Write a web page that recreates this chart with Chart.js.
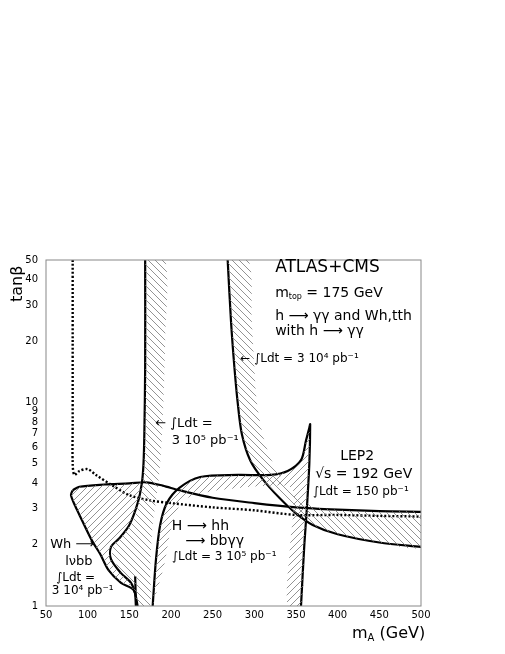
<!DOCTYPE html>
<html><head><meta charset="utf-8">
<script src="https://cdn.jsdelivr.net/npm/chart.js@4.4.0/dist/chart.umd.min.js"></script>
<style>body{margin:0;background:#fff}#wrap{width:505px;height:654px}</style>
</head><body><div id="wrap"><canvas id="c"></canvas></div>
<script>
// tick values
const xTicks = [50, 100, 150, 200, 250, 300, 350, 400, 450, 500];
const yTicks = [1, 2, 3, 4, 5, 6, 7, 8, 9, 10, 20, 30, 40, 50];

// curves (mA, tanb)
const dottedX = [82, 82, 82, 82, 84, 90, 100, 110, 130, 150, 175, 200, 250, 300, 350, 400, 450, 500];
const dottedY = [50, 20, 8, 5, 4.4, 4.6, 4.7, 4.4, 3.9, 3.5, 3.3, 3.2, 3.05, 2.95, 2.8, 2.8, 2.77, 2.75];
const upperX = [82, 90, 120, 150, 170, 190, 210, 250, 300, 350, 400, 450, 500];
const upperY = [3.7, 3.85, 3.95, 4.0, 4.05, 3.9, 3.7, 3.4, 3.2, 3.05, 2.97, 2.92, 2.9];
const vertX = [169, 169, 168, 167, 165, 160, 150, 138, 128, 128, 140, 152, 157, 158];
const vertY = [50, 15, 7, 5, 4.0, 3.2, 2.5, 2.15, 1.95, 1.7, 1.45, 1.3, 1.15, 1];
const curve4X = [268, 272, 276, 280, 285, 295, 310, 330, 350, 370, 400, 450, 500];
const curve4Y = [50, 25, 15, 10, 7, 5.2, 4.2, 3.4, 2.85, 2.5, 2.25, 2.05, 1.95];
const whX = [82, 80, 85, 92, 105, 115, 125, 140, 155, 160];
const whY = [3.7, 3.5, 3.1, 2.7, 2.1, 1.8, 1.5, 1.3, 1.2, 1];
const hhX = [178, 182, 187, 195, 210, 235, 280, 320, 340, 356, 362, 366, 367, 366, 363, 360, 356];
const hhY = [1, 1.7, 2.5, 3.2, 3.8, 4.3, 4.4, 4.4, 4.6, 5.2, 6.5, 7.5, 7.8, 5, 3, 2, 1];
const stubX = [157, 158];
const stubY = [1.4, 1];

// hatched regions (closed polygons)
const hatchVertX = [169, 169, 168, 167, 165, 160, 150, 138, 128, 140, 152, 157, 160, 175, 175, 178, 183, 187, 190, 193, 193, 169];
const hatchVertY = [50, 15, 7, 5, 4.0, 3.2, 2.5, 2.15, 1.95, 1.45, 1.3, 1.15, 1, 1, 1.5, 2.5, 3.5, 5, 8, 20, 50, 50];
const hatch4X = [268, 272, 276, 280, 285, 295, 310, 330, 350, 370, 400, 450, 500, 500, 450, 400, 370, 345, 330, 318, 310, 303, 300, 297, 293, 268];
const hatch4Y = [50, 25, 15, 10, 7, 5.2, 4.2, 3.4, 2.85, 2.5, 2.25, 2.05, 1.95, 2.85, 2.9, 2.97, 3.1, 3.6, 4.4, 5.5, 7, 10, 15, 25, 50, 50];
const hatchWhX = [82, 80, 85, 92, 105, 115, 125, 140, 155, 160, 157, 152, 140, 128, 128, 138, 150, 160, 165, 150, 120, 90, 82];
const hatchWhY = [3.7, 3.5, 3.1, 2.7, 2.1, 1.8, 1.5, 1.3, 1.2, 1, 1.15, 1.3, 1.45, 1.7, 1.95, 2.15, 2.5, 3.2, 4.0, 4.0, 3.95, 3.85, 3.7];
const hatchHhX = [178, 182, 187, 195, 210, 235, 280, 320, 340, 356, 362, 366, 367, 366, 363, 360, 356, 340, 343, 347, 345, 320, 280, 240, 215, 205, 198, 192, 178];
const hatchHhY = [1, 1.7, 2.5, 3.2, 3.8, 4.3, 4.4, 4.4, 4.6, 5.2, 6.5, 7.5, 7.8, 5, 3, 2, 1, 1, 2, 3, 3.8, 3.9, 3.8, 3.6, 3.3, 2.8, 2.2, 1.6, 1];

function pts(xs, ys) { return xs.map((x, i) => ({ x: x, y: ys[i] })); }

function hatch(dir) {
  const c = document.createElement('canvas');
  c.width = 7; c.height = 7;
  const g = c.getContext('2d');
  g.strokeStyle = '#777'; g.lineWidth = 0.8;
  g.beginPath();
  if (dir > 0) { g.moveTo(0, 7); g.lineTo(7, 0); g.moveTo(-1, 1); g.lineTo(1, -1); g.moveTo(6, 8); g.lineTo(8, 6); }
  else { g.moveTo(0, 0); g.lineTo(7, 7); g.moveTo(6, -1); g.lineTo(8, 1); g.moveTo(-1, 6); g.lineTo(1, 8); }
  g.stroke();
  return g.createPattern(c, 'repeat');
}
const fwd = hatch(1), back = hatch(-1);

function area(xs, ys, pat) {
  return { data: pts(xs, ys), showLine: true, fill: 'shape', backgroundColor: pat,
    borderWidth: 0, borderColor: 'rgba(0,0,0,0)', pointRadius: 0, tension: 0.3 };
}
function line(xs, ys, dash) {
  return { data: pts(xs, ys), showLine: true, fill: false, borderColor: '#000',
    borderWidth: dash ? 2.4 : 2.2, borderDash: dash ? [2, 2] : [], pointRadius: 0, tension: 0.3 };
}

const FONT = '"DejaVu Sans", Arial, sans-serif';
// text labels: t = main text, sub = optional subscript, r = rest after subscript
const labels = [
  { x: 325, y: 45.8, t: 'ATLAS+CMS', s: 17 },
  { x: 325, y: 34.4, t: 'm', sub: 'top', r: ' = 175 GeV', s: 14 },
  { x: 325, y: 26.5, t: 'h \u27f6 \u03b3\u03b3 and Wh,tth', s: 14 },
  { x: 325, y: 22.3, t: 'with h \u27f6 \u03b3\u03b3', s: 14 },
  { x: 283, y: 16.3, t: '\u2190 \u222bLdt = 3 10\u2074 pb\u207b\u00b9', s: 12 },
  { x: 181, y: 7.87, t: '\u2190 \u222bLdt =', s: 13 },
  { x: 201, y: 6.5, t: '3 10\u2075 pb\u207b\u00b9', s: 13 },
  { x: 403, y: 5.4, t: 'LEP2', s: 14 },
  { x: 373, y: 4.43, t: '\u221as = 192 GeV', s: 14 },
  { x: 370, y: 3.65, t: '\u222bLdt = 150 pb\u207b\u00b9', s: 12 },
  { x: 201, y: 2.47, t: 'H \u27f6 hh', s: 14 },
  { x: 217, y: 2.08, t: '\u27f6 bb\u03b3\u03b3', s: 14 },
  { x: 201, y: 1.75, t: '\u222bLdt = 3 10\u2075 pb\u207b\u00b9', s: 12 },
  { x: 55, y: 2.01, t: 'Wh \u27f6', s: 13 },
  { x: 73, y: 1.65, t: 'l\u03bdbb', s: 13 },
  { x: 62, y: 1.38, t: '\u222bLdt =', s: 12 },
  { x: 57, y: 1.19, t: '3 10\u2074 pb\u207b\u00b9', s: 12 }
];

function drawLabel(ctx, t, sub, r, s, px, py) {
  ctx.font = s + 'px ' + FONT;
  ctx.fillText(t, px, py);
  if (!sub) return;
  let w = ctx.measureText(t).width;
  ctx.font = Math.round(s * 0.6) + 'px ' + FONT;
  ctx.fillText(sub, px + w, py + s * 0.3);
  w += ctx.measureText(sub).width;
  ctx.font = s + 'px ' + FONT;
  ctx.fillText(r, px + w, py);
}

const deco = {
  id: 'deco',
  afterDatasetsDraw(chart) {
    const { ctx, chartArea: a, scales: { x, y } } = chart;
    ctx.save();
    ctx.strokeStyle = '#888'; ctx.lineWidth = 1;
    ctx.strokeRect(a.left, a.top, a.right - a.left, a.bottom - a.top);
    ctx.fillStyle = '#000'; ctx.textBaseline = 'middle';
    labels.forEach(l => drawLabel(ctx, l.t, l.sub, l.r, l.s, x.getPixelForValue(l.x), y.getPixelForValue(l.y)));
    drawLabel(ctx, 'm', 'A', ' (GeV)', 16, 352, 634);
    ctx.font = '16px ' + FONT;
    ctx.translate(18, 302); ctx.rotate(-Math.PI / 2);
    ctx.fillText('tan\u03b2', 0, 0);
    ctx.restore();
  }
};

new Chart(document.getElementById('c'), {
  type: 'scatter',
  data: { datasets: [
    area(hatchVertX, hatchVertY, back),
    area(hatch4X, hatch4Y, back),
    area(hatchWhX, hatchWhY, fwd),
    area(hatchHhX, hatchHhY, fwd),
    line(dottedX, dottedY, true),
    line(upperX, upperY),
    line(vertX, vertY),
    line(curve4X, curve4Y),
    line(whX, whY),
    line(hhX, hhY),
    line(stubX, stubY)
  ] },
  options: {
    responsive: true, maintainAspectRatio: false, animation: false,
    layout: { padding: { left: 0, top: 260, right: 84, bottom: 22 } },
    plugins: { legend: { display: false }, tooltip: { enabled: false } },
    scales: {
      x: { type: 'linear', min: 50, max: 500,
        afterBuildTicks: s => { s.ticks = xTicks.map(v => ({ value: v })); },
        afterFit: s => { s.height = 26; },
        grid: { display: false, drawTicks: false }, border: { display: false },
        ticks: { color: '#000', font: { family: FONT, size: 10 }, padding: 3 } },
      y: { type: 'logarithmic', min: 1, max: 50,
        afterBuildTicks: s => { s.ticks = yTicks.map(v => ({ value: v })); },
        afterFit: s => { s.width = 46; },
        grid: { display: false, drawTicks: false }, border: { display: false },
        ticks: { color: '#000', font: { family: FONT, size: 10 }, padding: 8, callback: v => String(v) } }
    }
  },
  plugins: [deco]
});
</script></body></html>
